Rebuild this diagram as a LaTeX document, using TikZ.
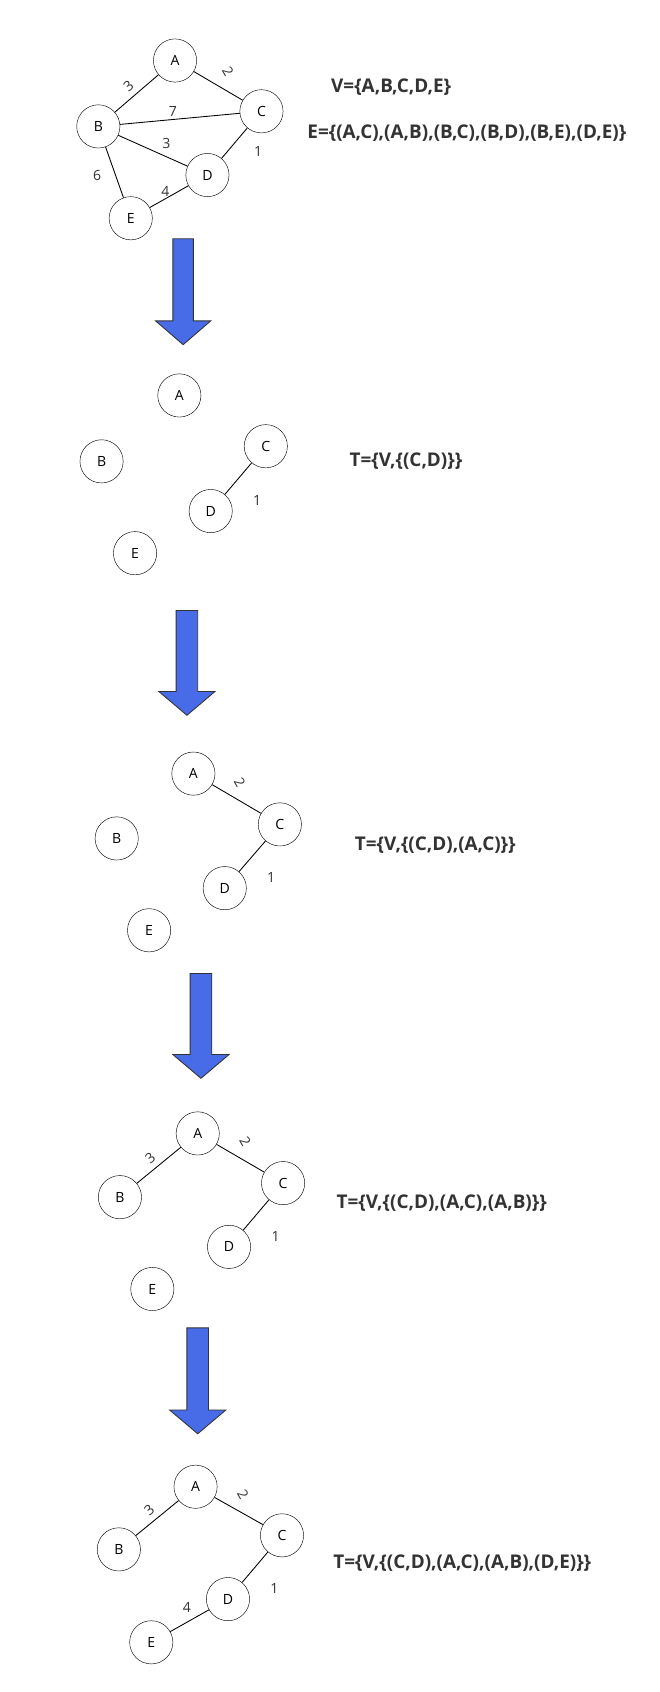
\documentclass[tikz,border=0pt]{standalone}
\usepackage{fontspec}
\setmainfont{Open Sans}
\definecolor{arrowblue}{RGB}{72,107,232}
\begin{document}
\begin{tikzpicture}[x=1pt,y=-1pt,
  v/.style={draw,circle,minimum size=40pt,inner sep=0pt,font=\fontsize{13}{13}\selectfont},
  w/.style={font=\fontsize{13}{13}\selectfont,text=black!80},
  set/.style={font=\bfseries\fontsize{17.5}{17.5}\selectfont,text=black!80,anchor=west},
  e/.style={thick}]
\useasboundingbox (0,0) rectangle (610,1566);
\newcommand{\bigarrow}[4]{% xleft xright ytop ytip
  \fill[arrowblue,draw=black!80,thick] (#1,#3) -- (#2,#3) -- (#2,#4-22) -- (#2+16,#4-22) -- ({(#1+#2)/2},#4) -- (#1-16,#4-22) -- (#1,#4-22) -- cycle;}
% graph 1
\node[v] (A1) at (162,56) {A};
\node[v] (B1) at (91,117) {B};
\node[v] (C1) at (242,103) {C};
\node[v] (D1) at (192,162) {D};
\node[v] (E1) at (121,202) {E};
\draw[e] (A1)--(B1); \draw[e] (A1)--(C1); \draw[e] (B1)--(C1); \draw[e] (B1)--(D1);
\draw[e] (C1)--(D1); \draw[e] (B1)--(E1); \draw[e] (D1)--(E1);
\node[w,rotate=40] at (119,80) {3}; \node[w,rotate=-60] at (211,66) {2};
\node[w] at (160,103) {7}; \node[w] at (154,133) {3}; \node[w] at (239,140) {1};
\node[w] at (90,162) {6}; \node[w] at (153,177) {4};
\node[set] (Vt) at (303,81) {V=\{A,B,C,D,E\}};
\node[set] (Et) at (281,123) {E=\{(A,C),(A,B),(B,C),(B,D),(B,E),(D,E)\}};
\bigarrow{160}{179}{221}{319}
% graph 2
\node[v] (A2) at (166,366) {A};
\node[v] (B2) at (94,427) {B};
\node[v] (C2) at (246,413) {C};
\node[v] (D2) at (195,473) {D};
\node[v] (E2) at (125,512) {E};
\draw[e] (C2)--(D2);
\node[w] at (238,463) {1};
\node[set] (T2) at (320,427) {T=\{V,\{(C,D)\}\}};
\bigarrow{163}{183}{565}{662}
% graph 3
\node[v] (A3) at (179,716) {A};
\node[v] (B3) at (108,776) {B};
\node[v] (C3) at (259,763) {C};
\node[v] (D3) at (208,822) {D};
\node[v] (E3) at (138,861) {E};
\draw[e] (C3)--(D3); \draw[e] (A3)--(C3);
\node[w] at (251,812) {1}; \node[w,rotate=-60] at (222,724) {2};
\node[set] (T3) at (325,782) {T=\{V,\{(C,D),(A,C)\}\}};
\bigarrow{176}{196}{901}{998}
% graph 4
\node[v] (A4) at (183,1049) {A};
\node[v] (B4) at (111,1108) {B};
\node[v] (C4) at (262,1095) {C};
\node[v] (D4) at (212,1154) {D};
\node[v] (E4) at (141,1193) {E};
\draw[e] (C4)--(D4); \draw[e] (A4)--(C4); \draw[e] (A4)--(B4);
\node[w] at (255,1144) {1}; \node[w,rotate=-60] at (227,1056) {2}; \node[w,rotate=40] at (139,1072) {3};
\node[set] (T4) at (308,1114) {T=\{V,\{(C,D),(A,C),(A,B)\}\}};
\bigarrow{173}{193}{1229}{1327}
% graph 5
\node[v] (A5) at (181,1376) {A};
\node[v] (B5) at (110,1434) {B};
\node[v] (C5) at (261,1421) {C};
\node[v] (D5) at (211,1480) {D};
\node[v] (E5) at (140,1520) {E};
\draw[e] (C5)--(D5); \draw[e] (A5)--(C5); \draw[e] (A5)--(B5); \draw[e] (D5)--(E5);
\node[w] at (254,1470) {1}; \node[w,rotate=-60] at (225,1383) {2}; \node[w,rotate=40] at (138,1398) {3};
\node[w] at (173,1488) {4};
\node[set] (T5) at (305,1447) {T=\{V,\{(C,D),(A,C),(A,B),(D,E)\}\}};
\end{tikzpicture}
\end{document}
